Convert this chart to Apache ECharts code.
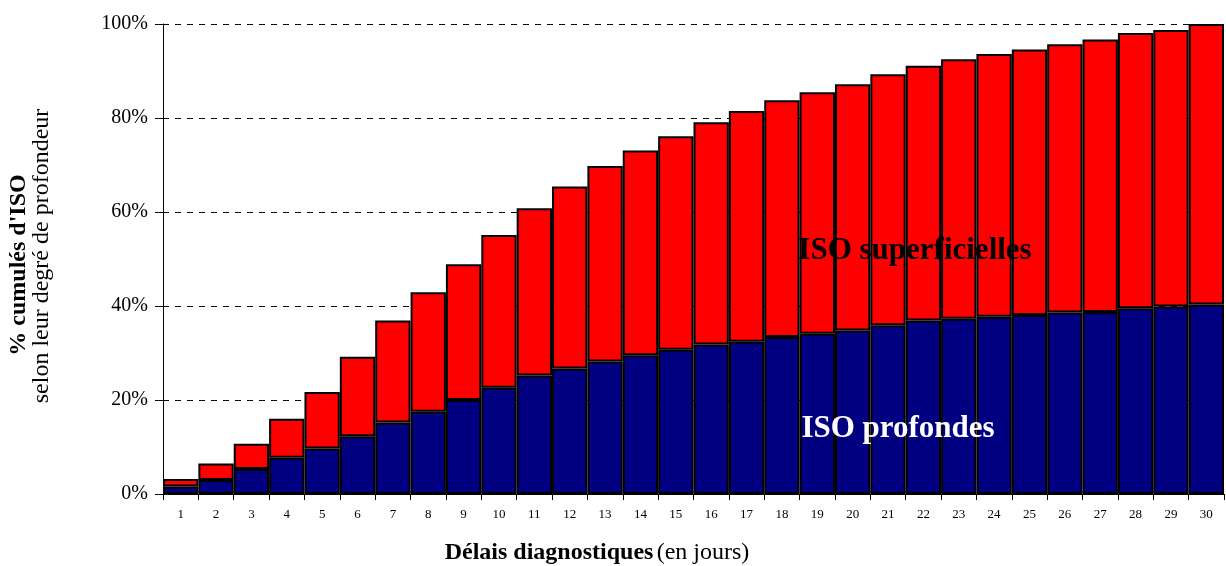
<!DOCTYPE html>
<html>
<head>
<meta charset="utf-8">
<script src="https://cdn.jsdelivr.net/npm/echarts@6/dist/echarts.min.js"></script>
<style>html,body{margin:0;padding:0;background:#fff}#c{width:1226px;height:566px}</style>
</head>
<body>
<div id="c"></div>
<script>
const categories = ['1','2','3','4','5','6','7','8','9','10','11','12','13','14','15','16','17','18','19','20','21','22','23','24','25','26','27','28','29','30'];
const isoProfondes = [1.6,3.0,5.3,7.7,9.7,12.3,15.2,17.5,20.0,22.6,25.2,26.7,28.2,29.5,30.7,31.8,32.4,33.4,34.1,34.8,35.9,36.9,37.3,37.7,38.1,38.6,38.7,39.5,39.9,40.3];
const isoSuperficielles = [1.6,3.5,5.4,8.3,12.0,16.9,21.7,25.4,28.9,32.5,35.6,38.7,41.6,43.6,45.4,47.3,49.1,50.4,51.4,52.4,53.4,54.2,55.2,55.9,56.5,57.1,58.0,58.6,58.8,59.7];
const yTicks = [0,20,40,60,80,100];

const font = 'Liberation Serif';
const chart = echarts.init(document.getElementById('c'), null, {renderer: 'canvas'});
chart.setOption({
  animation: false,
  textStyle: {fontFamily: font},
  grid: {left: 163, right: 2, top: 24, bottom: 72, containLabel: false},
  xAxis: {
    type: 'category',
    data: categories,
    axisLine: {lineStyle: {color: '#000', width: 1}},
    axisTick: {show: true, length: 6, lineStyle: {color: '#000'}},
    axisLabel: {color: '#000', fontSize: 13, fontFamily: font, margin: 14, interval: 0}
  },
  yAxis: {
    type: 'value',
    min: yTicks[0], max: yTicks[yTicks.length-1], interval: 20,
    axisLine: {show: true, lineStyle: {color: '#000', width: 1}},
    axisTick: {show: true, length: 8, lineStyle: {color: '#000'}},
    axisLabel: {color: '#000', fontSize: 20, fontFamily: font, margin: 15, formatter: '{value}%'},
    splitLine: {show: true, lineStyle: {color: '#000', type: [6, 6], width: 1}}
  },
  series: [
    {
      name: 'ISO profondes', type: 'bar', stack: 'iso', data: isoProfondes,
      barCategoryGap: '0%',
      itemStyle: {color: '#000080', borderColor: '#000', borderWidth: 2}
    },
    {
      name: 'ISO superficielles', type: 'bar', stack: 'iso', data: isoSuperficielles,
      barCategoryGap: '0%',
      itemStyle: {color: '#FF0000', borderColor: '#000', borderWidth: 2}
    }
  ],
  graphic: [
    {type: 'text', x: 915, y: 251, z: 100,
     style: {text: 'ISO superficielles', align: 'center', verticalAlign: 'middle', fill: '#000', font: 'bold 31px "Liberation Serif"'}},
    {type: 'text', x: 898, y: 429, z: 100,
     style: {text: 'ISO profondes', align: 'center', verticalAlign: 'middle', fill: '#fff', font: 'bold 31px "Liberation Serif"'}},
    {type: 'text', x: 597, y: 553, z: 100,
     style: {text: '{b|Délais diagnostiques} {n|(en jours)}', align: 'center', verticalAlign: 'middle',
       rich: {b: {fontWeight: 'bold', fontSize: 24, fontFamily: font, color: '#000'},
              n: {fontSize: 24, fontFamily: font, color: '#000'}}}},
    {type: 'text', x: 19, y: 265, rotation: Math.PI/2, z: 100,
     style: {text: "% cumulés d'ISO", align: 'center', verticalAlign: 'middle', fill: '#000',
       font: 'bold 24px "Liberation Serif"'}},
    {type: 'text', x: 42, y: 256, rotation: Math.PI/2, z: 100,
     style: {text: 'selon leur degré de profondeur', align: 'center', verticalAlign: 'middle', fill: '#000',
       font: '24px "Liberation Serif"'}}
  ]
});
</script>
</body>
</html>
